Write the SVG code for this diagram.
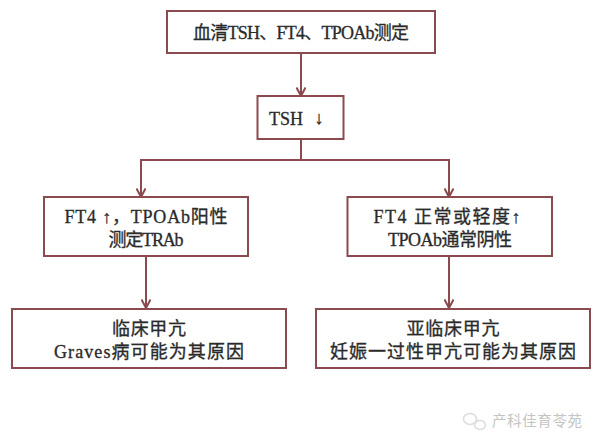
<svg xmlns="http://www.w3.org/2000/svg" width="600" height="446" viewBox="0 0 600 446">
<style>
.box{fill:#fff;stroke:#8b4a4e;stroke-width:2}
.c{fill:none;stroke:#8b4a4e;stroke-width:2}
text{font-family:"Liberation Serif","Noto Sans CJK SC",serif;font-size:18px;fill:#2a2a2a;text-anchor:middle;stroke:#2a2a2a;stroke-width:.3}
.wm{font-size:14.500px;fill:#c4c4c4;stroke:none;font-family:"Noto Sans CJK SC",sans-serif}
</style>
<defs><marker id="a" viewBox="0 0 10 10" refX="9.500" refY="5" markerWidth="10" markerHeight="10" markerUnits="userSpaceOnUse" orient="auto"><path d="M1 .5L9.500 5L1 9.500" fill="none" stroke="#8b4a4e" stroke-width="2"/></marker></defs>
<rect width="600" height="446" fill="#fff"/>
<g id="connectors">
<path class="c" d="M301 53V96" marker-end="url(#a)"/>
<path class="c" d="M301 139V160"/>
<path class="c" d="M301 160H141V197" marker-end="url(#a)"/>
<path class="c" d="M301 160H449V197" marker-end="url(#a)"/>
<path class="c" d="M146 256V308" marker-end="url(#a)"/>
<path class="c" d="M449 256V308" marker-end="url(#a)"/>
</g>
<g id="n1"><rect class="box" x="167" y="11" width="268" height="42"/><text x="301" y="39" textLength="216" lengthAdjust="spacing">血清TSH、FT4、TPOAb测定</text></g>
<g id="n2"><rect class="box" x="257.500" y="96" width="86" height="43"/><text x="286" y="125">TSH</text><text x="319" y="124">↓</text></g>
<g id="n3"><rect class="box" x="44" y="197" width="204" height="59"/><text x="146" y="223" textLength="163" lengthAdjust="spacing">FT4 ↑，TPOAb阳性</text><text x="146" y="246" textLength="75" lengthAdjust="spacing">测定TRAb</text></g>
<g id="n4"><rect class="box" x="347.500" y="197" width="204.500" height="59"/><text x="447" y="223" textLength="147" lengthAdjust="spacing">FT4 正常或轻度↑</text><text x="450" y="246" textLength="124" lengthAdjust="spacing">TPOAb通常阴性</text></g>
<g id="n5"><rect class="box" x="12" y="309" width="274" height="59"/><text x="149" y="335" textLength="74" lengthAdjust="spacing">临床甲亢</text><text x="149" y="358" textLength="190" lengthAdjust="spacing">Graves病可能为其原因</text></g>
<g id="n6"><rect class="box" x="316" y="309" width="274" height="59"/><text x="453" y="335" textLength="93" lengthAdjust="spacing">亚临床甲亢</text><text x="453" y="358" textLength="246" lengthAdjust="spacing">妊娠一过性甲亢可能为其原因</text></g>
<g id="watermark">
<g fill="none" stroke="#dcdcdc" stroke-width="1.500"><ellipse cx="470" cy="419" rx="6.500" ry="5.500"/><ellipse cx="480" cy="425" rx="5.500" ry="4.500"/></g>
<text class="wm" x="537" y="426" textLength="90" lengthAdjust="spacing">产科佳育苓苑</text>
</g>
</svg>
